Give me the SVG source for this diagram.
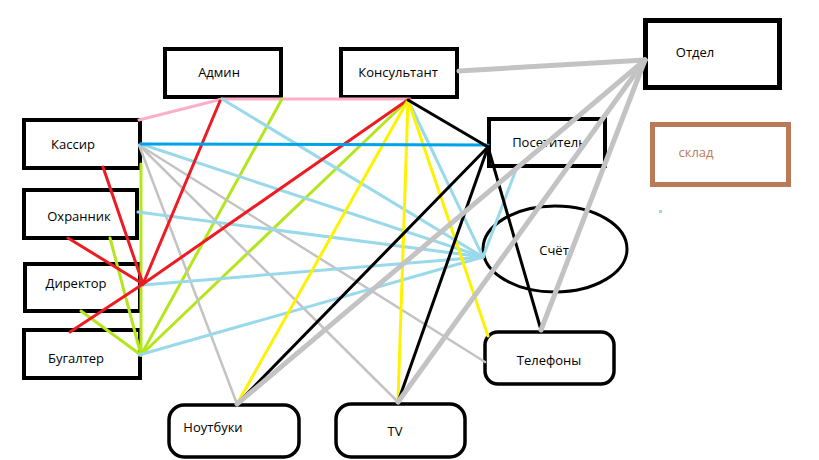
<svg xmlns="http://www.w3.org/2000/svg" width="819" height="460" viewBox="0 0 819 460">
<style>
.box{fill:#fff;stroke:#000;stroke-width:4}
.rbox{fill:#fff;stroke:#000;stroke-width:3.5}
.t{font-family:"Open Sans","Noto Sans",sans-serif;font-size:13px;fill:#000;text-anchor:middle}
.c line,.c polyline{fill:none;stroke-linecap:round}
.pink{stroke:#ffaec9;stroke-width:3}
.blue{stroke:#00a2e8;stroke-width:3}
.lb{stroke:#99d9ea;stroke-width:3}
.red{stroke:#ed1c24;stroke-width:3}
.lime{stroke:#b5e61d;stroke-width:3}
.yel{stroke:#fff200;stroke-width:3}
.blk{stroke:#000;stroke-width:3}
.g1{stroke:#c3c3c3;stroke-width:2.5}
.g2{stroke:#c3c3c3;stroke-width:5}
</style>
<rect width="819" height="460" fill="#fff"/>
<g id="admin"><rect class="box" x="165" y="49" width="116" height="48"/><text class="t" x="219" y="77">Админ</text></g>
<g id="konsultant"><rect class="box" x="341" y="49" width="116" height="48"/><text class="t" x="398" y="77">Консультант</text></g>
<g id="kassir"><rect class="box" x="24" y="120" width="116" height="48"/><text class="t" x="73" y="149">Кассир</text></g>
<g id="ohrannik"><rect class="box" x="24" y="190" width="113" height="48"/><text class="t" x="79" y="221">Охранник</text></g>
<g id="direktor"><rect class="box" x="25" y="264" width="115" height="47"/><text class="t" x="76" y="288">Директор</text></g>
<g id="bugalter"><rect class="box" x="24" y="330" width="116" height="48"/><text class="t" x="76" y="363">Бугалтер</text></g>
<g id="posetitel"><rect class="box" x="489" y="119" width="116" height="47"/><text class="t" x="549" y="147">Посетитель</text></g>
<g id="otdel"><rect fill="#fff" stroke="#000" stroke-width="5" x="645.5" y="20.5" width="134" height="67"/><text class="t" x="695" y="57">Отдел</text></g>
<g id="sklad"><rect fill="#fff" stroke="#b97a57" stroke-width="5" x="652.5" y="124.5" width="136" height="60"/><text class="t" x="696" y="157" style="fill:#b97a57">склад</text></g>
<g id="schet"><ellipse fill="#fff" stroke="#000" stroke-width="3" cx="555" cy="249" rx="72" ry="43"/><text class="t" x="554" y="255">Счёт</text></g>
<g id="telefony"><rect class="rbox" x="485" y="332" width="129" height="52" rx="13"/><text class="t" x="549" y="365">Телефоны</text></g>
<g id="noutbuki"><rect class="rbox" x="169" y="405" width="130" height="52" rx="15"/><text class="t" x="213" y="432">Ноутбуки</text></g>
<g id="tv"><rect class="rbox" x="336" y="404" width="129" height="53" rx="15"/><text class="t" x="395" y="436">TV</text></g>
<rect x="659" y="210" width="3" height="3" fill="#99d9ea"/>
<g id="connectors" class="c">
<polyline class="pink" points="139,120 222,99 410,99"/>
<line class="lime" x1="141" y1="164" x2="141" y2="355"/>
<line class="lime" x1="282" y1="99" x2="141" y2="355"/>
<line class="lime" x1="408" y1="100" x2="141" y2="355"/>
<line class="lime" x1="110" y1="238" x2="141" y2="355"/>
<line class="lime" x1="81" y1="311" x2="141" y2="355"/>
<line class="g1" x1="139" y1="145" x2="237" y2="404"/>
<line class="g1" x1="139" y1="145" x2="398" y2="402"/>
<line class="g1" x1="139" y1="145" x2="485" y2="362"/>
<line class="lb" x1="222" y1="99" x2="483" y2="257"/>
<line class="lb" x1="141" y1="144" x2="483" y2="257"/>
<line class="lb" x1="138" y1="212" x2="483" y2="257"/>
<line class="lb" x1="143" y1="285" x2="483" y2="257"/>
<line class="lb" x1="139" y1="355" x2="483" y2="257"/>
<line class="lb" x1="408" y1="100" x2="483" y2="257"/>
<line class="lb" x1="517" y1="167" x2="483" y2="257"/>
<line class="red" x1="220" y1="101" x2="143" y2="284"/>
<line class="red" x1="103" y1="167" x2="143" y2="284"/>
<line class="red" x1="68" y1="238" x2="143" y2="284"/>
<line class="red" x1="70" y1="332" x2="143" y2="284"/>
<line class="red" x1="143" y1="284" x2="409" y2="99"/>
<line class="yel" x1="408" y1="100" x2="398" y2="402"/>
<line class="yel" x1="408" y1="100" x2="237" y2="404"/>
<line class="yel" x1="408" y1="100" x2="488" y2="336"/>
<line class="blue" x1="141" y1="144" x2="488" y2="145"/>
<line class="blk" x1="408" y1="100" x2="488" y2="147"/>
<line class="blk" x1="488" y1="147" x2="237" y2="404"/>
<line class="blk" x1="488" y1="147" x2="398" y2="402"/>
<line class="blk" x1="488" y1="147" x2="541" y2="330"/>
<line class="g2" x1="459" y1="71" x2="645" y2="60"/>
<line class="g2" x1="237" y1="404" x2="645" y2="60"/>
<line class="g2" x1="398" y1="402" x2="645" y2="60"/>
<line class="g2" x1="541" y1="330" x2="645" y2="60"/>
</g>
</svg>
